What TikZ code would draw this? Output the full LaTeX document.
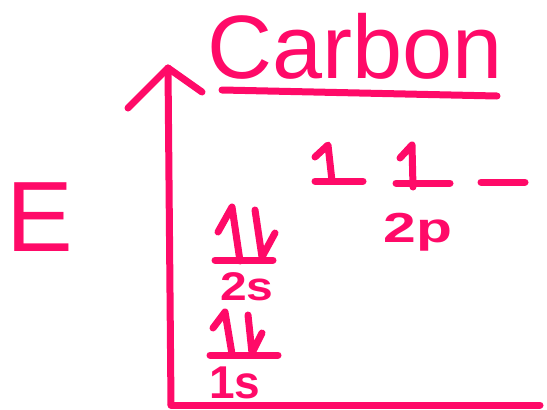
\documentclass[tikz,border=0pt]{standalone}
\usepackage{fontspec}
\setmainfont{Liberation Sans}
\definecolor{ink}{HTML}{FF0A68}
\begin{document}
\begin{tikzpicture}[x=1pt,y=-1pt,
  stroke/.style={draw=ink, line width=7pt, line cap=round, line join=round},
  lbl/.style={text=ink, inner sep=0pt, anchor=base}]
\useasboundingbox (0,0) rectangle (547,410);
% axes
\coordinate (origin) at (171,405);
\coordinate (top) at (168,68);
\coordinate (xend) at (540,405);
\coordinate (armL) at (128,108);
\coordinate (armR) at (202,92);
\draw[stroke] (origin) -- (top);
\draw[stroke] (armL) -- (top) -- (armR);
\draw[stroke] (origin) -- (xend);
% E label
\node[lbl, font=\fontsize{100}{100}\selectfont] (E) at (40,251) {E};
% title
\node[lbl, font=\fontsize{90}{90}\selectfont] (title) at (355,78) {Carbon};
\coordinate (ulA) at (222,90);
\coordinate (ulB) at (497,96);
\draw[stroke] (ulA) -- (ulB);
% 2p orbitals
\coordinate (p1a) at (315,181); \coordinate (p1b) at (363,181);
\coordinate (p2a) at (396,183); \coordinate (p2b) at (450,183);
\coordinate (p3a) at (481,182); \coordinate (p3b) at (525,182);
\draw[stroke] (p1a) -- (p1b);
\draw[stroke] (p2a) -- (p2b);
\draw[stroke] (p3a) -- (p3b);
\draw[stroke] (315,157) -- (328,145) -- (332,181);
\draw[stroke] (400,158) -- (412,145) -- (413,187);
\node[lbl, font=\bfseries\fontsize{42}{42}\selectfont, xscale=1.4] (l2p) at (418,242) {2p};
% 2s orbital
\coordinate (s2a) at (215,260); \coordinate (s2b) at (273,260);
\draw[stroke] (s2a) -- (s2b);
\draw[stroke] (218,232) -- (232,207) -- (240,261);
\draw[stroke] (255,210) -- (262,257) -- (275,233);
\node[lbl, font=\bfseries\fontsize{40}{40}\selectfont, xscale=1.2] (l2s) at (247,300) {2s};
% 1s orbital
\coordinate (s1a) at (210,355); \coordinate (s1b) at (278,355);
\draw[stroke] (s1a) -- (s1b);
\draw[stroke] (213,328) -- (225,312) -- (232,354);
\draw[stroke] (248,315) -- (252,353) -- (262,333);
\node[lbl, font=\bfseries\fontsize{46}{46}\selectfont] (l1s) at (235,398) {1s};
\end{tikzpicture}
\end{document}
